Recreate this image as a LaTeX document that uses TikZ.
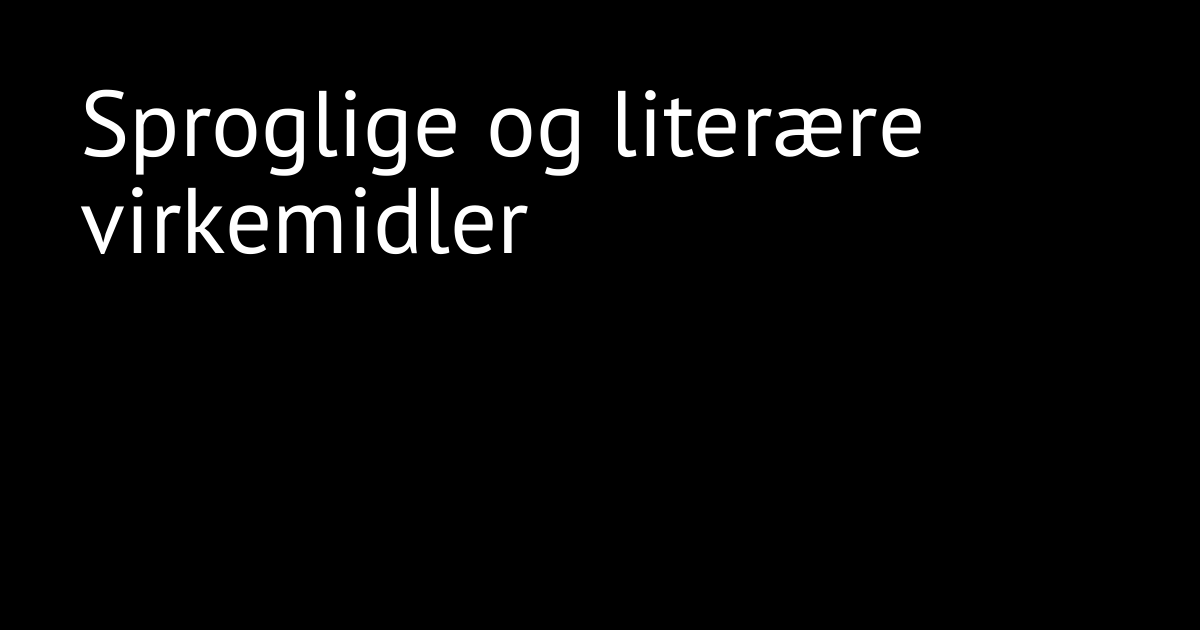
\documentclass[tikz,border=0pt]{standalone}
\usepackage{fontspec}
\setmainfont{PT Sans}
\usetikzlibrary{positioning}
\tikzset{
  titletext/.style={text=white, inner sep=0pt, anchor=base west,
    font=\fontsize{53}{60}\selectfont}
}
\begin{document}
\begin{tikzpicture}
			\fill[black] (0,0) rectangle (24,12.6);
			\useasboundingbox (0,0) rectangle (24,12.6);
			\node[titletext] (lineone) at (1.6,9.48) {Sproglige og literære};
			\node[titletext] (linetwo) at ([yshift=-1.94cm]lineone.base west) {virkemidler};
		\end{tikzpicture}
\end{document}
